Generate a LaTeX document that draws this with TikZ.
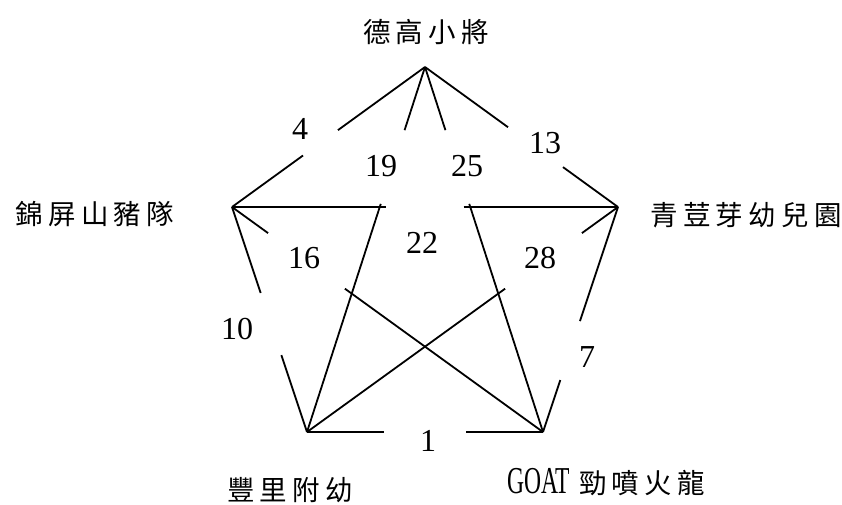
\documentclass[tikz,border=0pt]{standalone}
\usepackage{fontspec}
\setmainfont{Liberation Serif}
\newfontfamily\cjk{Noto Sans CJK TC}[LetterSpace=19]
\usetikzlibrary{calc}
\tikzset{
  teamlabel/.style={font=\cjk\fontsize{27.5}{30}\selectfont, inner sep=0pt},
  scorelabel/.style={font=\fontsize{32}{36}\selectfont, inner sep=0pt},
  matchline/.style={-, draw=black, line width=1.8pt}
}

\begin{document}
\begin{tikzpicture}[x=1pt, y=-1pt]
  \useasboundingbox (0,0) rectangle (842,504);
  % the five teams
  \coordinate (tk) at (425,67);
  \coordinate (jp) at (232,207);
  \coordinate (qd) at (618,207);
  \coordinate (fl) at (307,432);
  \coordinate (goat) at (543,432);
  \node[teamlabel] (tkname) at (426,32) {德高小將};
  \node[teamlabel] (jpname) at (95,214) {錦屏山豬隊};
  \node[teamlabel] (qdname) at (746,215) {青荳芽幼兒園};
  \node[teamlabel] (flname) at (290,490) {豐里附幼};
  \node[teamlabel] (goatname) at (606,482) {\scalebox{0.62}[1]{\rmfamily\fontsize{38}{40}\selectfont GOAT}\hspace{9pt}勁噴火龍};

  % matches, each line broken where its score sits
  \draw[matchline] (tk) -- ($(tk)!0.451!(jp)$) ($(tk)!0.632!(jp)$) -- (jp);
  \draw[matchline] (tk) -- ($(tk)!0.173!(fl)$) ($(tk)!0.375!(fl)$) -- (fl);
  \draw[matchline] (tk) -- ($(tk)!0.173!(goat)$) ($(tk)!0.375!(goat)$) -- (goat);
  \draw[matchline] (tk) -- ($(tk)!0.43!(qd)$) ($(tk)!0.715!(qd)$) -- (qd);
  \draw[matchline] (jp) -- ($(jp)!0.40!(qd)$) ($(jp)!0.60!(qd)$) -- (qd);
  \draw[matchline] (jp) -- ($(jp)!0.116!(goat)$) ($(jp)!0.363!(goat)$) -- (goat);
  \draw[matchline] (qd) -- ($(qd)!0.116!(fl)$) ($(qd)!0.363!(fl)$) -- (fl);
  \draw[matchline] (jp) -- ($(jp)!0.382!(fl)$) ($(jp)!0.658!(fl)$) -- (fl);
  \draw[matchline] (qd) -- ($(qd)!0.507!(goat)$) ($(qd)!0.769!(goat)$) -- (goat);
  \draw[matchline] (fl) -- ($(fl)!0.326!(goat)$) ($(fl)!0.674!(goat)$) -- (goat);

  % scores
  \node[scorelabel] (s4) at (300,129) {4};
  \node[scorelabel] (s19) at (381,166) {19};
  \node[scorelabel] (s25) at (467,166) {25};
  \node[scorelabel] (s13) at (545,143) {13};
  \node[scorelabel] (s22) at (422,243) {22};
  \node[scorelabel] (s16) at (304,258) {16};
  \node[scorelabel] (s28) at (540,258) {28};
  \node[scorelabel] (s10) at (237,329) {10};
  \node[scorelabel] (s7) at (587,357) {7};
  \node[scorelabel] (s1) at (428,441) {1};
\end{tikzpicture}
\end{document}
